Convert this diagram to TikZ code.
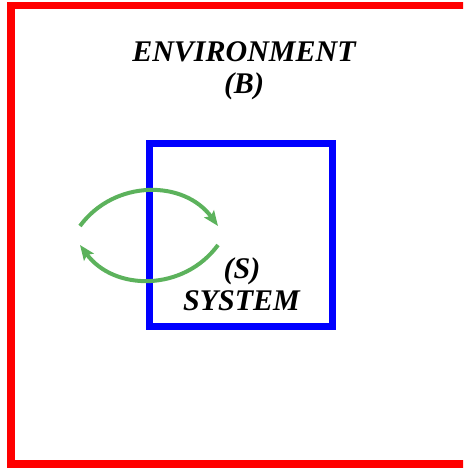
\documentclass[tikz,border=0pt]{standalone}
\usepackage{fontspec}
\setmainfont{Liberation Serif}
\usetikzlibrary{arrows.meta}
\definecolor{framered}{RGB}{255,0,0}
\definecolor{sysblue}{RGB}{0,0,255}
\definecolor{flowgreen}{RGB}{92,178,92}
\tikzset{
  label text/.style={font=\fontsize{30}{32}\selectfont\bfseries\itshape, inner sep=0pt, anchor=base},
  exchange/.style={draw=flowgreen, line width=4pt,
    -{Stealth[length=15pt,width=12pt,inset=3pt]}},
}
\begin{document}
\begin{tikzpicture}[x=1pt,y=-1pt]
  \useasboundingbox (0,0) rectangle (463,468);
  \clip (0,0) rectangle (463,468);
  % environment boundary
  \draw[framered, line width=7.5pt] (11,5.5) rectangle (480,464);
  % system boundary
  \node[draw=sysblue, line width=7pt, minimum width=183.5pt, minimum height=183pt, inner sep=0pt]
    (sys) at (240.75,235.2) {};
  % labels
  \node[label text] (env) at (244,62) {ENVIRONMENT};
  \node[label text] (envB) at (244,94) {(B)};
  \node[label text] (sysS) at (242,278) {(S)};
  \node[label text] (sysname) at (241.5,310) {SYSTEM};
  % exchange arrows
  \coordinate (a1) at (80,226);
  \coordinate (a2) at (218,226);
  \coordinate (b1) at (218,245);
  \coordinate (b2) at (80,245);
  \draw[exchange] (a1) .. controls (114.2,179.4) and (183.8,179.4) .. (a2);
  \draw[exchange] (b1) .. controls (183.8,291.6) and (114.2,291.6) .. (b2);
\end{tikzpicture}
\end{document}
